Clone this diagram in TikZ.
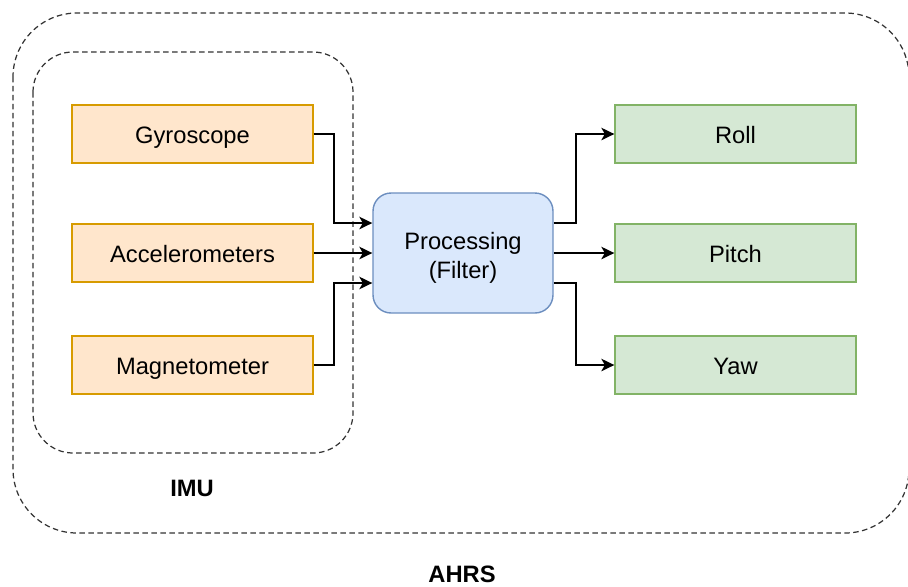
\documentclass[tikz,border=0pt]{standalone}
\usepackage{fontspec}
\setmainfont{Liberation Sans}
\usetikzlibrary{arrows.meta}
\usetikzlibrary{calc}

\definecolor{sensfill}{HTML}{FFE6CC}
\definecolor{sensline}{HTML}{D79B00}
\definecolor{procfill}{HTML}{DAE8FC}
\definecolor{procline}{HTML}{6C8EBF}
\definecolor{outfill}{HTML}{D5E8D4}
\definecolor{outline}{HTML}{82B366}

\begin{document}
\begin{tikzpicture}[x=0.02cm, y=-0.02cm,
  every node/.style={font=\fontsize{13.5}{16.5}\selectfont},
  sensor/.style={draw=sensline, fill=sensfill, line width=0.8pt, minimum width=4.82cm, minimum height=1.16cm,
    text height=11pt, text depth=0pt},
  angle/.style={draw=outline, fill=outfill, line width=0.8pt, minimum width=4.82cm, minimum height=1.16cm,
    text height=11pt, text depth=0pt},
  group/.style={draw=black!80, line width=0.7pt, dash pattern=on 0.11cm off 0.07cm},
  conn/.style={line width=1pt, -{Stealth[length=0.26cm,width=0.25cm,inset=0.07cm]}}]
\useasboundingbox (0,0) rectangle (908,586);
% dashed groups
\draw[group, rounded corners=1.28cm] (13,13) rectangle (909,533);
\draw[group, rounded corners=0.8cm] (33,52) rectangle (353,453);
\node[font=\fontsize{13.5}{16.5}\selectfont\bfseries] (imu) at (192,488) {IMU};
\node[font=\fontsize{13.5}{16.5}\selectfont\bfseries] (ahrs) at (462,574) {AHRS};
% blocks
\foreach\name/\txt/\y in {gyro/Gyroscope/134, acc/Accelerometers/253, mag/Magnetometer/365}{
  \node[sensor] (\name) at (192.5,\y) {\txt};
}
\foreach\name/\txt/\y in {roll/Roll/134, pitch/Pitch/253, yaw/Yaw/365}{
  \node[angle] (\name) at (735.5,\y) {\txt};
}
\node[draw=procline, fill=procfill, line width=0.8pt, rounded corners=0.36cm,
  minimum width=3.6cm, minimum height=2.4cm, align=center] (proc) at (463,253) {\\[-0.1em]Processing\\(Filter)};
% connectors
\draw[conn] (gyro.east) -- ++(20,0) |- ([yshift=0.6cm]proc.west);
\draw[conn] (acc.east) -- (proc.west);
\draw[conn] (mag.east) -- ++(20,0) |- ([yshift=-0.6cm]proc.west);
\draw[conn] ([yshift=0.6cm]proc.east) -- ++(22,0) |- (roll.west);
\draw[conn] (proc.east) -- (pitch.west);
\draw[conn] ([yshift=-0.6cm]proc.east) -- ++(22,0) |- (yaw.west);
\end{tikzpicture}
\end{document}
